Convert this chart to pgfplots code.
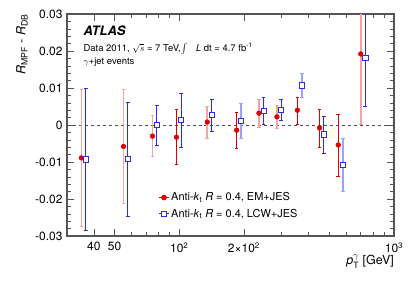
\documentclass[border=0pt]{standalone}
\usepackage{fontspec}
\setmainfont{TeX Gyre Heros}
\usepackage{pgfplots}
\pgfplotsset{compat=1.18}
\usepackage{pgfplotstable}
\definecolor{atred}{RGB}{220,0,0}
\definecolor{atredl}{RGB}{242,165,165}
\definecolor{atblue}{RGB}{40,40,255}
\definecolor{atbluel}{RGB}{160,160,250}
\definecolor{axgray}{HTML}{555555}

\pgfplotstableread{
x y ep em
35 -0.0089 0.0186 0.0186
55 -0.0058 0.0155 0.0154
75 -0.0030 0.0056 0.0055
135 0.0008 0.0043 0.0045
235 0.0032 0.0038 0.0038
285 0.0022 0.0031 0.0031
700 0.0192 0.0300 0.0190
}\redlight
\pgfplotstableread{
x y ep em
97 -0.0033 0.0074 0.0073
185 -0.0014 0.0049 0.0049
355 0.0040 0.0035 0.0038
450 -0.0008 0.0050 0.0052
550 -0.0054 0.0083 0.0084
}\reddark
\pgfplotstableread{
x y ep em
36.7 -0.0093 0.0192 0.0191
57.7 -0.0092 0.0154 0.0154
78.7 0.0000 0.0053 0.0055
102 0.0013 0.0072 0.0073
142 0.0027 0.0043 0.0044
247 0.0038 0.0037 0.0036
298 0.0042 0.0027 0.0030
472 -0.0025 0.0049 0.0052
735 0.0181 0.0300 0.0132
}\bluedark
\pgfplotstableread{
x y ep em
194 0.0011 0.0048 0.0048
373 0.0107 0.0033 0.0034
577 -0.0108 0.0072 0.0072
}\bluelight

\begin{document}
\begin{tikzpicture}
\begin{axis}[
  scale only axis, width=327bp, height=222bp,
  xmode=log, xmin=30, xmax=1000,
  ymin=-0.03, ymax=0.03,
  scaled y ticks=false,
  axis line style={axgray, line width=1.1bp},
  tick style={axgray, line width=0.6bp},
  tick align=inside,
  major tick length=7bp, minor tick length=4bp,
  xtick={40,50,100,200,1000},
  xticklabels={40,50,10\textsuperscript{2},2×10\textsuperscript{2},10\textsuperscript{3}},
  minor xtick={60,70,80,90,300,400,500,600,700,800,900},
  ytick={-0.03,-0.02,-0.01,0,0.01,0.02,0.03},
  yticklabels={-0.03,-0.02,-0.01,0,0.01,0.02,0.03},
  minor y tick num=4,
  xtick pos=both, ytick pos=both,
  ticklabel style={font=\fontsize{12}{14}\selectfont},
  xticklabel style={yshift=-3bp},
  yticklabel style={xshift=-1bp},
  /pgf/number format/assume math mode=true,
  ylabel={\textit{R}\textsubscript{MPF} - \textit{R}\textsubscript{DB}},
  ylabel style={at={(axis description cs:-0.12,1)}, anchor=south east, inner sep=0pt, font=\fontsize{12.5}{14}\selectfont},
  xlabel={$\mathit{p}_{\mathrm{T}}^{\gamma}$ [GeV]},
  xlabel style={at={(axis description cs:1,-0.085)}, anchor=north east, inner sep=0pt, font=\fontsize{12.5}{14}\selectfont},
  legend style={at={(axis description cs:0.28,0.205)}, anchor=north west, draw=none, fill=none,
    font=\fontsize{11}{13}\selectfont, row sep=2.5bp, inner sep=0pt},
  legend cell align=left,
  legend image code/.code={\draw[mark repeat=2,mark phase=2,#1] plot coordinates {(0cm,0cm) (0.17cm,0cm) (0.34cm,0cm)};},
  redmk/.style={only marks, mark=*, mark size=2.4bp, color=atred, mark options={fill=atred, draw=atred}},
  bluemk/.style={only marks, mark=square*, mark size=2.6bp, color=atblue, mark options={fill=white, draw=atblue, line width=0.7bp}},
]
\addplot[forget plot, black!70, dashed, line width=0.6bp] coordinates {(30,0) (1000,0)};
\addplot[forget plot, redmk, error bars/.cd, y dir=both, y explicit,
  error bar style={color=atredl, line width=1.6bp},
  error mark options={rotate=90, mark size=1.8bp, color=atredl, line width=1bp}]
  table[x=x, y=y, y error plus=ep, y error minus=em]{\redlight};
\addplot[forget plot, redmk, error bars/.cd, y dir=both, y explicit,
  error bar style={color=atred, line width=1bp},
  error mark options={rotate=90, mark size=1.8bp, color=atred, line width=1bp}]
  table[x=x, y=y, y error plus=ep, y error minus=em]{\reddark};
\addplot[forget plot, bluemk, error bars/.cd, y dir=both, y explicit,
  error bar style={color=atbluel, line width=1.6bp},
  error mark options={rotate=90, mark size=1.8bp, color=atbluel, line width=1bp}]
  table[x=x, y=y, y error plus=ep, y error minus=em]{\bluelight};
\addplot[forget plot, bluemk, error bars/.cd, y dir=both, y explicit,
  error bar style={color=atblue, line width=1bp},
  error mark options={rotate=90, mark size=1.8bp, color=atblue, line width=1bp}]
  table[x=x, y=y, y error plus=ep, y error minus=em]{\bluedark};
\addlegendimage{atred, line width=0.8bp, mark=*, mark size=2.4bp, mark options={fill=atred}}
\addlegendentry{Anti-\textit{k}\textsubscript{t} \textit{R} = 0.4, EM+JES}
\addlegendimage{atblue, line width=0.8bp, mark=square*, mark size=2.6bp, mark options={fill=white, draw=atblue, line width=0.7bp}}
\addlegendentry{Anti-\textit{k}\textsubscript{t} \textit{R} = 0.4, LCW+JES}
\node[anchor=west, inner sep=0pt, font=\fontsize{13}{15}\selectfont\bfseries\itshape] at (axis description cs:0.05,0.925) {ATLAS};
\node[anchor=west, inner sep=0pt, font=\fontsize{9.5}{11}\selectfont] at (axis description cs:0.05,0.845) {Data 2011, $\sqrt{s}$ = 7 TeV,$\int$\hspace{0.9em}\textit{L} dt = 4.7 fb\textsuperscript{-1}};
\node[anchor=west, inner sep=0pt, font=\fontsize{9.5}{11}\selectfont] at (axis description cs:0.05,0.785) {$\gamma$+jet events};
\end{axis}
\pgfresetboundingbox
\path[use as bounding box] (-67bp,-45bp) rectangle (348bp,236bp);
\end{tikzpicture}
\end{document}
